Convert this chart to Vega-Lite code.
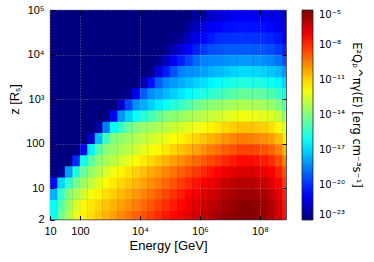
{
"$schema": "https://vega.github.io/schema/vega-lite/v6.json",
"width": 236, "height": 209.5,
"autosize": {"type": "none"},
"padding": {"left": 50, "top": 10, "right": 88, "bottom": 42.5},
"config": {"font": "Liberation Sans", "view": {"stroke": "#222", "strokeWidth": 0.8, "fill": "#00007f"}},
"data": {"values": [
{"logE":1.125,"logZ":0.375,"logQ":-16.07},{"logE":1.375,"logZ":0.375,"logQ":-14.32},{"logE":1.625,"logZ":0.375,"logQ":-13.18},{"logE":1.875,"logZ":0.375,"logQ":-12.17},{"logE":2.125,"logZ":0.375,"logQ":-11.54},{"logE":2.375,"logZ":0.375,"logQ":-11.17},{"logE":2.625,"logZ":0.375,"logQ":-10.8},{"logE":2.875,"logZ":0.375,"logQ":-10.43},{"logE":3.125,"logZ":0.375,"logQ":-10.06},{"logE":3.375,"logZ":0.375,"logQ":-9.69},{"logE":3.625,"logZ":0.375,"logQ":-9.33},{"logE":3.875,"logZ":0.375,"logQ":-9.0},{"logE":4.125,"logZ":0.375,"logQ":-8.67},{"logE":4.375,"logZ":0.375,"logQ":-8.34},{"logE":4.625,"logZ":0.375,"logQ":-8.01},{"logE":4.875,"logZ":0.375,"logQ":-7.68},{"logE":5.125,"logZ":0.375,"logQ":-7.35},{"logE":5.375,"logZ":0.375,"logQ":-7.03},{"logE":5.625,"logZ":0.375,"logQ":-6.72},{"logE":5.875,"logZ":0.375,"logQ":-6.41},{"logE":6.125,"logZ":0.375,"logQ":-6.09},{"logE":6.375,"logZ":0.375,"logQ":-5.85},{"logE":6.625,"logZ":0.375,"logQ":-5.65},{"logE":6.875,"logZ":0.375,"logQ":-5.44},{"logE":7.125,"logZ":0.375,"logQ":-5.27},{"logE":7.375,"logZ":0.375,"logQ":-5.1},{"logE":7.625,"logZ":0.375,"logQ":-5.14},{"logE":7.875,"logZ":0.375,"logQ":-5.25},{"logE":8.125,"logZ":0.375,"logQ":-5.45},{"logE":8.375,"logZ":0.375,"logQ":-5.8},{"logE":8.625,"logZ":0.375,"logQ":-6.42},{"logE":8.875,"logZ":0.375,"logQ":-7.52},
{"logE":1.125,"logZ":0.625,"logQ":-16.22},{"logE":1.375,"logZ":0.625,"logQ":-14.74},{"logE":1.625,"logZ":0.625,"logQ":-13.49},{"logE":1.875,"logZ":0.625,"logQ":-12.47},{"logE":2.125,"logZ":0.625,"logQ":-11.66},{"logE":2.375,"logZ":0.625,"logQ":-11.34},{"logE":2.625,"logZ":0.625,"logQ":-11.03},{"logE":2.875,"logZ":0.625,"logQ":-10.72},{"logE":3.125,"logZ":0.625,"logQ":-10.41},{"logE":3.375,"logZ":0.625,"logQ":-10.09},{"logE":3.625,"logZ":0.625,"logQ":-9.78},{"logE":3.875,"logZ":0.625,"logQ":-9.46},{"logE":4.125,"logZ":0.625,"logQ":-9.11},{"logE":4.375,"logZ":0.625,"logQ":-8.76},{"logE":4.625,"logZ":0.625,"logQ":-8.4},{"logE":4.875,"logZ":0.625,"logQ":-8.05},{"logE":5.125,"logZ":0.625,"logQ":-7.7},{"logE":5.375,"logZ":0.625,"logQ":-7.34},{"logE":5.625,"logZ":0.625,"logQ":-7.03},{"logE":5.875,"logZ":0.625,"logQ":-6.73},{"logE":6.125,"logZ":0.625,"logQ":-6.43},{"logE":6.375,"logZ":0.625,"logQ":-6.14},{"logE":6.625,"logZ":0.625,"logQ":-5.87},{"logE":6.875,"logZ":0.625,"logQ":-5.62},{"logE":7.125,"logZ":0.625,"logQ":-5.41},{"logE":7.375,"logZ":0.625,"logQ":-5.2},{"logE":7.625,"logZ":0.625,"logQ":-5.24},{"logE":7.875,"logZ":0.625,"logQ":-5.35},{"logE":8.125,"logZ":0.625,"logQ":-5.54},{"logE":8.375,"logZ":0.625,"logQ":-5.88},{"logE":8.625,"logZ":0.625,"logQ":-6.49},{"logE":8.875,"logZ":0.625,"logQ":-7.57},
{"logE":1.125,"logZ":0.875,"logQ":-17.68},{"logE":1.375,"logZ":0.875,"logQ":-15.33},{"logE":1.625,"logZ":0.875,"logQ":-13.93},{"logE":1.875,"logZ":0.875,"logQ":-13.28},{"logE":2.125,"logZ":0.875,"logQ":-12.62},{"logE":2.375,"logZ":0.875,"logQ":-11.97},{"logE":2.625,"logZ":0.875,"logQ":-11.54},{"logE":2.875,"logZ":0.875,"logQ":-11.22},{"logE":3.125,"logZ":0.875,"logQ":-10.9},{"logE":3.375,"logZ":0.875,"logQ":-10.58},{"logE":3.625,"logZ":0.875,"logQ":-10.26},{"logE":3.875,"logZ":0.875,"logQ":-9.94},{"logE":4.125,"logZ":0.875,"logQ":-9.62},{"logE":4.375,"logZ":0.875,"logQ":-9.26},{"logE":4.625,"logZ":0.875,"logQ":-8.88},{"logE":4.875,"logZ":0.875,"logQ":-8.49},{"logE":5.125,"logZ":0.875,"logQ":-8.11},{"logE":5.375,"logZ":0.875,"logQ":-7.72},{"logE":5.625,"logZ":0.875,"logQ":-7.34},{"logE":5.875,"logZ":0.875,"logQ":-7.04},{"logE":6.125,"logZ":0.875,"logQ":-6.77},{"logE":6.375,"logZ":0.875,"logQ":-6.49},{"logE":6.625,"logZ":0.875,"logQ":-6.22},{"logE":6.875,"logZ":0.875,"logQ":-5.95},{"logE":7.125,"logZ":0.875,"logQ":-5.73},{"logE":7.375,"logZ":0.875,"logQ":-5.51},{"logE":7.625,"logZ":0.875,"logQ":-5.54},{"logE":7.875,"logZ":0.875,"logQ":-5.64},{"logE":8.125,"logZ":0.875,"logQ":-5.83},{"logE":8.375,"logZ":0.875,"logQ":-6.17},{"logE":8.625,"logZ":0.875,"logQ":-6.77},{"logE":8.875,"logZ":0.875,"logQ":-7.82},
{"logE":1.125,"logZ":1.125,"logQ":-20.64},{"logE":1.375,"logZ":1.125,"logQ":-16.98},{"logE":1.625,"logZ":1.125,"logQ":-15.43},{"logE":1.875,"logZ":1.125,"logQ":-14.26},{"logE":2.125,"logZ":1.125,"logQ":-13.52},{"logE":2.375,"logZ":1.125,"logQ":-12.9},{"logE":2.625,"logZ":1.125,"logQ":-12.28},{"logE":2.875,"logZ":1.125,"logQ":-11.7},{"logE":3.125,"logZ":1.125,"logQ":-11.38},{"logE":3.375,"logZ":1.125,"logQ":-11.06},{"logE":3.625,"logZ":1.125,"logQ":-10.74},{"logE":3.875,"logZ":1.125,"logQ":-10.42},{"logE":4.125,"logZ":1.125,"logQ":-10.1},{"logE":4.375,"logZ":1.125,"logQ":-9.78},{"logE":4.625,"logZ":1.125,"logQ":-9.45},{"logE":4.875,"logZ":1.125,"logQ":-9.07},{"logE":5.125,"logZ":1.125,"logQ":-8.7},{"logE":5.375,"logZ":1.125,"logQ":-8.32},{"logE":5.625,"logZ":1.125,"logQ":-7.95},{"logE":5.875,"logZ":1.125,"logQ":-7.57},{"logE":6.125,"logZ":1.125,"logQ":-7.21},{"logE":6.375,"logZ":1.125,"logQ":-6.93},{"logE":6.625,"logZ":1.125,"logQ":-6.65},{"logE":6.875,"logZ":1.125,"logQ":-6.37},{"logE":7.125,"logZ":1.125,"logQ":-6.12},{"logE":7.375,"logZ":1.125,"logQ":-5.99},{"logE":7.625,"logZ":1.125,"logQ":-6.03},{"logE":7.875,"logZ":1.125,"logQ":-6.14},{"logE":8.125,"logZ":1.125,"logQ":-6.32},{"logE":8.375,"logZ":1.125,"logQ":-6.65},{"logE":8.625,"logZ":1.125,"logQ":-7.24},{"logE":8.875,"logZ":1.125,"logQ":-8.27},
{"logE":1.125,"logZ":1.375,"logQ":-23},{"logE":1.375,"logZ":1.375,"logQ":-22.6},{"logE":1.625,"logZ":1.375,"logQ":-18.06},{"logE":1.875,"logZ":1.375,"logQ":-15.71},{"logE":2.125,"logZ":1.375,"logQ":-14.44},{"logE":2.375,"logZ":1.375,"logQ":-13.64},{"logE":2.625,"logZ":1.375,"logQ":-13.1},{"logE":2.875,"logZ":1.375,"logQ":-12.55},{"logE":3.125,"logZ":1.375,"logQ":-12.0},{"logE":3.375,"logZ":1.375,"logQ":-11.58},{"logE":3.625,"logZ":1.375,"logQ":-11.25},{"logE":3.875,"logZ":1.375,"logQ":-10.93},{"logE":4.125,"logZ":1.375,"logQ":-10.61},{"logE":4.375,"logZ":1.375,"logQ":-10.28},{"logE":4.625,"logZ":1.375,"logQ":-9.96},{"logE":4.875,"logZ":1.375,"logQ":-9.64},{"logE":5.125,"logZ":1.375,"logQ":-9.3},{"logE":5.375,"logZ":1.375,"logQ":-8.96},{"logE":5.625,"logZ":1.375,"logQ":-8.62},{"logE":5.875,"logZ":1.375,"logQ":-8.28},{"logE":6.125,"logZ":1.375,"logQ":-7.94},{"logE":6.375,"logZ":1.375,"logQ":-7.6},{"logE":6.625,"logZ":1.375,"logQ":-7.26},{"logE":6.875,"logZ":1.375,"logQ":-7.01},{"logE":7.125,"logZ":1.375,"logQ":-6.81},{"logE":7.375,"logZ":1.375,"logQ":-6.59},{"logE":7.625,"logZ":1.375,"logQ":-6.63},{"logE":7.875,"logZ":1.375,"logQ":-6.73},{"logE":8.125,"logZ":1.375,"logQ":-6.91},{"logE":8.375,"logZ":1.375,"logQ":-7.24},{"logE":8.625,"logZ":1.375,"logQ":-7.81},{"logE":8.875,"logZ":1.375,"logQ":-8.82},
{"logE":1.125,"logZ":1.625,"logQ":-23},{"logE":1.375,"logZ":1.625,"logQ":-23},{"logE":1.625,"logZ":1.625,"logQ":-23},{"logE":1.875,"logZ":1.625,"logQ":-20.05},{"logE":2.125,"logZ":1.625,"logQ":-16.0},{"logE":2.375,"logZ":1.625,"logQ":-14.63},{"logE":2.625,"logZ":1.625,"logQ":-13.78},{"logE":2.875,"logZ":1.625,"logQ":-13.37},{"logE":3.125,"logZ":1.625,"logQ":-12.96},{"logE":3.375,"logZ":1.625,"logQ":-12.56},{"logE":3.625,"logZ":1.625,"logQ":-12.15},{"logE":3.875,"logZ":1.625,"logQ":-11.74},{"logE":4.125,"logZ":1.625,"logQ":-11.41},{"logE":4.375,"logZ":1.625,"logQ":-11.08},{"logE":4.625,"logZ":1.625,"logQ":-10.75},{"logE":4.875,"logZ":1.625,"logQ":-10.41},{"logE":5.125,"logZ":1.625,"logQ":-10.08},{"logE":5.375,"logZ":1.625,"logQ":-9.75},{"logE":5.625,"logZ":1.625,"logQ":-9.42},{"logE":5.875,"logZ":1.625,"logQ":-9.12},{"logE":6.125,"logZ":1.625,"logQ":-8.82},{"logE":6.375,"logZ":1.625,"logQ":-8.53},{"logE":6.625,"logZ":1.625,"logQ":-8.23},{"logE":6.875,"logZ":1.625,"logQ":-7.93},{"logE":7.125,"logZ":1.625,"logQ":-7.67},{"logE":7.375,"logZ":1.625,"logQ":-7.4},{"logE":7.625,"logZ":1.625,"logQ":-7.43},{"logE":7.875,"logZ":1.625,"logQ":-7.52},{"logE":8.125,"logZ":1.625,"logQ":-7.7},{"logE":8.375,"logZ":1.625,"logQ":-8.0},{"logE":8.625,"logZ":1.625,"logQ":-8.55},{"logE":8.875,"logZ":1.625,"logQ":-9.52},
{"logE":1.125,"logZ":1.875,"logQ":-23},{"logE":1.375,"logZ":1.875,"logQ":-23},{"logE":1.625,"logZ":1.875,"logQ":-23},{"logE":1.875,"logZ":1.875,"logQ":-23},{"logE":2.125,"logZ":1.875,"logQ":-20.98},{"logE":2.375,"logZ":1.875,"logQ":-16.46},{"logE":2.625,"logZ":1.875,"logQ":-14.86},{"logE":2.875,"logZ":1.875,"logQ":-13.87},{"logE":3.125,"logZ":1.875,"logQ":-13.55},{"logE":3.375,"logZ":1.875,"logQ":-13.23},{"logE":3.625,"logZ":1.875,"logQ":-12.91},{"logE":3.875,"logZ":1.875,"logQ":-12.59},{"logE":4.125,"logZ":1.875,"logQ":-12.27},{"logE":4.375,"logZ":1.875,"logQ":-11.95},{"logE":4.625,"logZ":1.875,"logQ":-11.63},{"logE":4.875,"logZ":1.875,"logQ":-11.32},{"logE":5.125,"logZ":1.875,"logQ":-11.01},{"logE":5.375,"logZ":1.875,"logQ":-10.71},{"logE":5.625,"logZ":1.875,"logQ":-10.4},{"logE":5.875,"logZ":1.875,"logQ":-10.09},{"logE":6.125,"logZ":1.875,"logQ":-9.78},{"logE":6.375,"logZ":1.875,"logQ":-9.47},{"logE":6.625,"logZ":1.875,"logQ":-9.19},{"logE":6.875,"logZ":1.875,"logQ":-8.9},{"logE":7.125,"logZ":1.875,"logQ":-8.65},{"logE":7.375,"logZ":1.875,"logQ":-8.4},{"logE":7.625,"logZ":1.875,"logQ":-8.42},{"logE":7.875,"logZ":1.875,"logQ":-8.51},{"logE":8.125,"logZ":1.875,"logQ":-8.68},{"logE":8.375,"logZ":1.875,"logQ":-8.97},{"logE":8.625,"logZ":1.875,"logQ":-9.49},{"logE":8.875,"logZ":1.875,"logQ":-10.42},
{"logE":1.125,"logZ":2.125,"logQ":-23},{"logE":1.375,"logZ":2.125,"logQ":-23},{"logE":1.625,"logZ":2.125,"logQ":-23},{"logE":1.875,"logZ":2.125,"logQ":-23},{"logE":2.125,"logZ":2.125,"logQ":-23},{"logE":2.375,"logZ":2.125,"logQ":-21.65},{"logE":2.625,"logZ":2.125,"logQ":-17.45},{"logE":2.875,"logZ":2.125,"logQ":-15.22},{"logE":3.125,"logZ":2.125,"logQ":-13.94},{"logE":3.375,"logZ":2.125,"logQ":-13.68},{"logE":3.625,"logZ":2.125,"logQ":-13.41},{"logE":3.875,"logZ":2.125,"logQ":-13.15},{"logE":4.125,"logZ":2.125,"logQ":-12.89},{"logE":4.375,"logZ":2.125,"logQ":-12.62},{"logE":4.625,"logZ":2.125,"logQ":-12.36},{"logE":4.875,"logZ":2.125,"logQ":-12.09},{"logE":5.125,"logZ":2.125,"logQ":-11.83},{"logE":5.375,"logZ":2.125,"logQ":-11.55},{"logE":5.625,"logZ":2.125,"logQ":-11.27},{"logE":5.875,"logZ":2.125,"logQ":-10.99},{"logE":6.125,"logZ":2.125,"logQ":-10.71},{"logE":6.375,"logZ":2.125,"logQ":-10.43},{"logE":6.625,"logZ":2.125,"logQ":-10.15},{"logE":6.875,"logZ":2.125,"logQ":-9.87},{"logE":7.125,"logZ":2.125,"logQ":-9.62},{"logE":7.375,"logZ":2.125,"logQ":-9.47},{"logE":7.625,"logZ":2.125,"logQ":-9.51},{"logE":7.875,"logZ":2.125,"logQ":-9.6},{"logE":8.125,"logZ":2.125,"logQ":-9.75},{"logE":8.375,"logZ":2.125,"logQ":-10.02},{"logE":8.625,"logZ":2.125,"logQ":-10.51},{"logE":8.875,"logZ":2.125,"logQ":-11.37},
{"logE":1.125,"logZ":2.375,"logQ":-23},{"logE":1.375,"logZ":2.375,"logQ":-23},{"logE":1.625,"logZ":2.375,"logQ":-23},{"logE":1.875,"logZ":2.375,"logQ":-23},{"logE":2.125,"logZ":2.375,"logQ":-23},{"logE":2.375,"logZ":2.375,"logQ":-23},{"logE":2.625,"logZ":2.375,"logQ":-22.3},{"logE":2.875,"logZ":2.375,"logQ":-18.59},{"logE":3.125,"logZ":2.375,"logQ":-16.23},{"logE":3.375,"logZ":2.375,"logQ":-15.31},{"logE":3.625,"logZ":2.375,"logQ":-14.39},{"logE":3.875,"logZ":2.375,"logQ":-13.87},{"logE":4.125,"logZ":2.375,"logQ":-13.64},{"logE":4.375,"logZ":2.375,"logQ":-13.41},{"logE":4.625,"logZ":2.375,"logQ":-13.18},{"logE":4.875,"logZ":2.375,"logQ":-12.96},{"logE":5.125,"logZ":2.375,"logQ":-12.73},{"logE":5.375,"logZ":2.375,"logQ":-12.5},{"logE":5.625,"logZ":2.375,"logQ":-12.27},{"logE":5.875,"logZ":2.375,"logQ":-12.05},{"logE":6.125,"logZ":2.375,"logQ":-11.82},{"logE":6.375,"logZ":2.375,"logQ":-11.58},{"logE":6.625,"logZ":2.375,"logQ":-11.34},{"logE":6.875,"logZ":2.375,"logQ":-11.1},{"logE":7.125,"logZ":2.375,"logQ":-10.89},{"logE":7.375,"logZ":2.375,"logQ":-10.68},{"logE":7.625,"logZ":2.375,"logQ":-10.7},{"logE":7.875,"logZ":2.375,"logQ":-10.78},{"logE":8.125,"logZ":2.375,"logQ":-10.92},{"logE":8.375,"logZ":2.375,"logQ":-11.18},{"logE":8.625,"logZ":2.375,"logQ":-11.62},{"logE":8.875,"logZ":2.375,"logQ":-12.42},
{"logE":1.125,"logZ":2.625,"logQ":-23},{"logE":1.375,"logZ":2.625,"logQ":-23},{"logE":1.625,"logZ":2.625,"logQ":-23},{"logE":1.875,"logZ":2.625,"logQ":-23},{"logE":2.125,"logZ":2.625,"logQ":-23},{"logE":2.375,"logZ":2.625,"logQ":-23},{"logE":2.625,"logZ":2.625,"logQ":-23},{"logE":2.875,"logZ":2.625,"logQ":-23},{"logE":3.125,"logZ":2.625,"logQ":-20.68},{"logE":3.375,"logZ":2.625,"logQ":-18.11},{"logE":3.625,"logZ":2.625,"logQ":-17.09},{"logE":3.875,"logZ":2.625,"logQ":-16.15},{"logE":4.125,"logZ":2.625,"logQ":-15.59},{"logE":4.375,"logZ":2.625,"logQ":-15.02},{"logE":4.625,"logZ":2.625,"logQ":-14.46},{"logE":4.875,"logZ":2.625,"logQ":-13.96},{"logE":5.125,"logZ":2.625,"logQ":-13.76},{"logE":5.375,"logZ":2.625,"logQ":-13.55},{"logE":5.625,"logZ":2.625,"logQ":-13.35},{"logE":5.875,"logZ":2.625,"logQ":-13.15},{"logE":6.125,"logZ":2.625,"logQ":-12.94},{"logE":6.375,"logZ":2.625,"logQ":-12.74},{"logE":6.625,"logZ":2.625,"logQ":-12.53},{"logE":6.875,"logZ":2.625,"logQ":-12.33},{"logE":7.125,"logZ":2.625,"logQ":-12.15},{"logE":7.375,"logZ":2.625,"logQ":-11.97},{"logE":7.625,"logZ":2.625,"logQ":-11.99},{"logE":7.875,"logZ":2.625,"logQ":-12.06},{"logE":8.125,"logZ":2.625,"logQ":-12.19},{"logE":8.375,"logZ":2.625,"logQ":-12.41},{"logE":8.625,"logZ":2.625,"logQ":-12.81},{"logE":8.875,"logZ":2.625,"logQ":-13.52},
{"logE":1.125,"logZ":2.875,"logQ":-23},{"logE":1.375,"logZ":2.875,"logQ":-23},{"logE":1.625,"logZ":2.875,"logQ":-23},{"logE":1.875,"logZ":2.875,"logQ":-23},{"logE":2.125,"logZ":2.875,"logQ":-23},{"logE":2.375,"logZ":2.875,"logQ":-23},{"logE":2.625,"logZ":2.875,"logQ":-23},{"logE":2.875,"logZ":2.875,"logQ":-23},{"logE":3.125,"logZ":2.875,"logQ":-23},{"logE":3.375,"logZ":2.875,"logQ":-21.69},{"logE":3.625,"logZ":2.875,"logQ":-19.58},{"logE":3.875,"logZ":2.875,"logQ":-18.18},{"logE":4.125,"logZ":2.875,"logQ":-17.64},{"logE":4.375,"logZ":2.875,"logQ":-17.09},{"logE":4.625,"logZ":2.875,"logQ":-16.55},{"logE":4.875,"logZ":2.875,"logQ":-16.06},{"logE":5.125,"logZ":2.875,"logQ":-15.66},{"logE":5.375,"logZ":2.875,"logQ":-15.25},{"logE":5.625,"logZ":2.875,"logQ":-14.85},{"logE":5.875,"logZ":2.875,"logQ":-14.44},{"logE":6.125,"logZ":2.875,"logQ":-14.04},{"logE":6.375,"logZ":2.875,"logQ":-13.84},{"logE":6.625,"logZ":2.875,"logQ":-13.66},{"logE":6.875,"logZ":2.875,"logQ":-13.48},{"logE":7.125,"logZ":2.875,"logQ":-13.33},{"logE":7.375,"logZ":2.875,"logQ":-13.17},{"logE":7.625,"logZ":2.875,"logQ":-13.19},{"logE":7.875,"logZ":2.875,"logQ":-13.25},{"logE":8.125,"logZ":2.875,"logQ":-13.37},{"logE":8.375,"logZ":2.875,"logQ":-13.58},{"logE":8.625,"logZ":2.875,"logQ":-13.95},{"logE":8.875,"logZ":2.875,"logQ":-14.62},
{"logE":1.125,"logZ":3.125,"logQ":-23},{"logE":1.375,"logZ":3.125,"logQ":-23},{"logE":1.625,"logZ":3.125,"logQ":-23},{"logE":1.875,"logZ":3.125,"logQ":-23},{"logE":2.125,"logZ":3.125,"logQ":-23},{"logE":2.375,"logZ":3.125,"logQ":-23},{"logE":2.625,"logZ":3.125,"logQ":-23},{"logE":2.875,"logZ":3.125,"logQ":-23},{"logE":3.125,"logZ":3.125,"logQ":-23},{"logE":3.375,"logZ":3.125,"logQ":-23},{"logE":3.625,"logZ":3.125,"logQ":-22.7},{"logE":3.875,"logZ":3.125,"logQ":-20.97},{"logE":4.125,"logZ":3.125,"logQ":-19.14},{"logE":4.375,"logZ":3.125,"logQ":-18.24},{"logE":4.625,"logZ":3.125,"logQ":-17.85},{"logE":4.875,"logZ":3.125,"logQ":-17.45},{"logE":5.125,"logZ":3.125,"logQ":-17.06},{"logE":5.375,"logZ":3.125,"logQ":-16.67},{"logE":5.625,"logZ":3.125,"logQ":-16.27},{"logE":5.875,"logZ":3.125,"logQ":-16.0},{"logE":6.125,"logZ":3.125,"logQ":-15.74},{"logE":6.375,"logZ":3.125,"logQ":-15.48},{"logE":6.625,"logZ":3.125,"logQ":-15.21},{"logE":6.875,"logZ":3.125,"logQ":-14.95},{"logE":7.125,"logZ":3.125,"logQ":-14.72},{"logE":7.375,"logZ":3.125,"logQ":-14.48},{"logE":7.625,"logZ":3.125,"logQ":-14.48},{"logE":7.875,"logZ":3.125,"logQ":-14.55},{"logE":8.125,"logZ":3.125,"logQ":-14.66},{"logE":8.375,"logZ":3.125,"logQ":-14.86},{"logE":8.625,"logZ":3.125,"logQ":-15.23},{"logE":8.875,"logZ":3.125,"logQ":-15.86},
{"logE":1.125,"logZ":3.375,"logQ":-23},{"logE":1.375,"logZ":3.375,"logQ":-23},{"logE":1.625,"logZ":3.375,"logQ":-23},{"logE":1.875,"logZ":3.375,"logQ":-23},{"logE":2.125,"logZ":3.375,"logQ":-23},{"logE":2.375,"logZ":3.375,"logQ":-23},{"logE":2.625,"logZ":3.375,"logQ":-23},{"logE":2.875,"logZ":3.375,"logQ":-23},{"logE":3.125,"logZ":3.375,"logQ":-23},{"logE":3.375,"logZ":3.375,"logQ":-23},{"logE":3.625,"logZ":3.375,"logQ":-23},{"logE":3.875,"logZ":3.375,"logQ":-23},{"logE":4.125,"logZ":3.375,"logQ":-22.12},{"logE":4.375,"logZ":3.375,"logQ":-20.55},{"logE":4.625,"logZ":3.375,"logQ":-19.15},{"logE":4.875,"logZ":3.375,"logQ":-18.33},{"logE":5.125,"logZ":3.375,"logQ":-18.01},{"logE":5.375,"logZ":3.375,"logQ":-17.69},{"logE":5.625,"logZ":3.375,"logQ":-17.38},{"logE":5.875,"logZ":3.375,"logQ":-17.06},{"logE":6.125,"logZ":3.375,"logQ":-16.74},{"logE":6.375,"logZ":3.375,"logQ":-16.42},{"logE":6.625,"logZ":3.375,"logQ":-16.17},{"logE":6.875,"logZ":3.375,"logQ":-15.98},{"logE":7.125,"logZ":3.375,"logQ":-15.82},{"logE":7.375,"logZ":3.375,"logQ":-15.66},{"logE":7.625,"logZ":3.375,"logQ":-15.68},{"logE":7.875,"logZ":3.375,"logQ":-15.74},{"logE":8.125,"logZ":3.375,"logQ":-15.84},{"logE":8.375,"logZ":3.375,"logQ":-16.03},{"logE":8.625,"logZ":3.375,"logQ":-16.37},{"logE":8.875,"logZ":3.375,"logQ":-16.96},
{"logE":1.125,"logZ":3.625,"logQ":-23},{"logE":1.375,"logZ":3.625,"logQ":-23},{"logE":1.625,"logZ":3.625,"logQ":-23},{"logE":1.875,"logZ":3.625,"logQ":-23},{"logE":2.125,"logZ":3.625,"logQ":-23},{"logE":2.375,"logZ":3.625,"logQ":-23},{"logE":2.625,"logZ":3.625,"logQ":-23},{"logE":2.875,"logZ":3.625,"logQ":-23},{"logE":3.125,"logZ":3.625,"logQ":-23},{"logE":3.375,"logZ":3.625,"logQ":-23},{"logE":3.625,"logZ":3.625,"logQ":-23},{"logE":3.875,"logZ":3.625,"logQ":-23},{"logE":4.125,"logZ":3.625,"logQ":-23},{"logE":4.375,"logZ":3.625,"logQ":-22.7},{"logE":4.625,"logZ":3.625,"logQ":-21.43},{"logE":4.875,"logZ":3.625,"logQ":-20.3},{"logE":5.125,"logZ":3.625,"logQ":-19.33},{"logE":5.375,"logZ":3.625,"logQ":-18.47},{"logE":5.625,"logZ":3.625,"logQ":-18.26},{"logE":5.875,"logZ":3.625,"logQ":-18.06},{"logE":6.125,"logZ":3.625,"logQ":-17.85},{"logE":6.375,"logZ":3.625,"logQ":-17.65},{"logE":6.625,"logZ":3.625,"logQ":-17.44},{"logE":6.875,"logZ":3.625,"logQ":-17.23},{"logE":7.125,"logZ":3.625,"logQ":-17.05},{"logE":7.375,"logZ":3.625,"logQ":-16.86},{"logE":7.625,"logZ":3.625,"logQ":-16.87},{"logE":7.875,"logZ":3.625,"logQ":-16.93},{"logE":8.125,"logZ":3.625,"logQ":-17.03},{"logE":8.375,"logZ":3.625,"logQ":-17.22},{"logE":8.625,"logZ":3.625,"logQ":-17.54},{"logE":8.875,"logZ":3.625,"logQ":-18.11},
{"logE":1.125,"logZ":3.875,"logQ":-23},{"logE":1.375,"logZ":3.875,"logQ":-23},{"logE":1.625,"logZ":3.875,"logQ":-23},{"logE":1.875,"logZ":3.875,"logQ":-23},{"logE":2.125,"logZ":3.875,"logQ":-23},{"logE":2.375,"logZ":3.875,"logQ":-23},{"logE":2.625,"logZ":3.875,"logQ":-23},{"logE":2.875,"logZ":3.875,"logQ":-23},{"logE":3.125,"logZ":3.875,"logQ":-23},{"logE":3.375,"logZ":3.875,"logQ":-23},{"logE":3.625,"logZ":3.875,"logQ":-23},{"logE":3.875,"logZ":3.875,"logQ":-23},{"logE":4.125,"logZ":3.875,"logQ":-23},{"logE":4.375,"logZ":3.875,"logQ":-23},{"logE":4.625,"logZ":3.875,"logQ":-22.8},{"logE":4.875,"logZ":3.875,"logQ":-21.88},{"logE":5.125,"logZ":3.875,"logQ":-20.98},{"logE":5.375,"logZ":3.875,"logQ":-20.25},{"logE":5.625,"logZ":3.875,"logQ":-19.58},{"logE":5.875,"logZ":3.875,"logQ":-18.91},{"logE":6.125,"logZ":3.875,"logQ":-18.47},{"logE":6.375,"logZ":3.875,"logQ":-18.37},{"logE":6.625,"logZ":3.875,"logQ":-18.28},{"logE":6.875,"logZ":3.875,"logQ":-18.19},{"logE":7.125,"logZ":3.875,"logQ":-18.12},{"logE":7.375,"logZ":3.875,"logQ":-18.05},{"logE":7.625,"logZ":3.875,"logQ":-18.07},{"logE":7.875,"logZ":3.875,"logQ":-18.13},{"logE":8.125,"logZ":3.875,"logQ":-18.23},{"logE":8.375,"logZ":3.875,"logQ":-18.4},{"logE":8.625,"logZ":3.875,"logQ":-18.71},{"logE":8.875,"logZ":3.875,"logQ":-19.26},
{"logE":1.125,"logZ":4.125,"logQ":-23},{"logE":1.375,"logZ":4.125,"logQ":-23},{"logE":1.625,"logZ":4.125,"logQ":-23},{"logE":1.875,"logZ":4.125,"logQ":-23},{"logE":2.125,"logZ":4.125,"logQ":-23},{"logE":2.375,"logZ":4.125,"logQ":-23},{"logE":2.625,"logZ":4.125,"logQ":-23},{"logE":2.875,"logZ":4.125,"logQ":-23},{"logE":3.125,"logZ":4.125,"logQ":-23},{"logE":3.375,"logZ":4.125,"logQ":-23},{"logE":3.625,"logZ":4.125,"logQ":-23},{"logE":3.875,"logZ":4.125,"logQ":-23},{"logE":4.125,"logZ":4.125,"logQ":-23},{"logE":4.375,"logZ":4.125,"logQ":-23},{"logE":4.625,"logZ":4.125,"logQ":-23},{"logE":4.875,"logZ":4.125,"logQ":-22.8},{"logE":5.125,"logZ":4.125,"logQ":-22.18},{"logE":5.375,"logZ":4.125,"logQ":-21.43},{"logE":5.625,"logZ":4.125,"logQ":-20.76},{"logE":5.875,"logZ":4.125,"logQ":-20.26},{"logE":6.125,"logZ":4.125,"logQ":-19.75},{"logE":6.375,"logZ":4.125,"logQ":-19.38},{"logE":6.625,"logZ":4.125,"logQ":-19.31},{"logE":6.875,"logZ":4.125,"logQ":-19.24},{"logE":7.125,"logZ":4.125,"logQ":-19.19},{"logE":7.375,"logZ":4.125,"logQ":-19.15},{"logE":7.625,"logZ":4.125,"logQ":-19.16},{"logE":7.875,"logZ":4.125,"logQ":-19.21},{"logE":8.125,"logZ":4.125,"logQ":-19.3},{"logE":8.375,"logZ":4.125,"logQ":-19.45},{"logE":8.625,"logZ":4.125,"logQ":-19.73},{"logE":8.875,"logZ":4.125,"logQ":-20.21},
{"logE":1.125,"logZ":4.375,"logQ":-23},{"logE":1.375,"logZ":4.375,"logQ":-23},{"logE":1.625,"logZ":4.375,"logQ":-23},{"logE":1.875,"logZ":4.375,"logQ":-23},{"logE":2.125,"logZ":4.375,"logQ":-23},{"logE":2.375,"logZ":4.375,"logQ":-23},{"logE":2.625,"logZ":4.375,"logQ":-23},{"logE":2.875,"logZ":4.375,"logQ":-23},{"logE":3.125,"logZ":4.375,"logQ":-23},{"logE":3.375,"logZ":4.375,"logQ":-23},{"logE":3.625,"logZ":4.375,"logQ":-23},{"logE":3.875,"logZ":4.375,"logQ":-23},{"logE":4.125,"logZ":4.375,"logQ":-23},{"logE":4.375,"logZ":4.375,"logQ":-23},{"logE":4.625,"logZ":4.375,"logQ":-23},{"logE":4.875,"logZ":4.375,"logQ":-23},{"logE":5.125,"logZ":4.375,"logQ":-22.8},{"logE":5.375,"logZ":4.375,"logQ":-22.58},{"logE":5.625,"logZ":4.375,"logQ":-21.71},{"logE":5.875,"logZ":4.375,"logQ":-21.18},{"logE":6.125,"logZ":4.375,"logQ":-20.69},{"logE":6.375,"logZ":4.375,"logQ":-20.33},{"logE":6.625,"logZ":4.375,"logQ":-19.99},{"logE":6.875,"logZ":4.375,"logQ":-19.93},{"logE":7.125,"logZ":4.375,"logQ":-19.89},{"logE":7.375,"logZ":4.375,"logQ":-19.84},{"logE":7.625,"logZ":4.375,"logQ":-19.86},{"logE":7.875,"logZ":4.375,"logQ":-19.9},{"logE":8.125,"logZ":4.375,"logQ":-19.98},{"logE":8.375,"logZ":4.375,"logQ":-20.12},{"logE":8.625,"logZ":4.375,"logQ":-20.37},{"logE":8.875,"logZ":4.375,"logQ":-20.81},
{"logE":1.125,"logZ":4.625,"logQ":-23},{"logE":1.375,"logZ":4.625,"logQ":-23},{"logE":1.625,"logZ":4.625,"logQ":-23},{"logE":1.875,"logZ":4.625,"logQ":-23},{"logE":2.125,"logZ":4.625,"logQ":-23},{"logE":2.375,"logZ":4.625,"logQ":-23},{"logE":2.625,"logZ":4.625,"logQ":-23},{"logE":2.875,"logZ":4.625,"logQ":-23},{"logE":3.125,"logZ":4.625,"logQ":-23},{"logE":3.375,"logZ":4.625,"logQ":-23},{"logE":3.625,"logZ":4.625,"logQ":-23},{"logE":3.875,"logZ":4.625,"logQ":-23},{"logE":4.125,"logZ":4.625,"logQ":-23},{"logE":4.375,"logZ":4.625,"logQ":-23},{"logE":4.625,"logZ":4.625,"logQ":-23},{"logE":4.875,"logZ":4.625,"logQ":-23},{"logE":5.125,"logZ":4.625,"logQ":-23},{"logE":5.375,"logZ":4.625,"logQ":-23},{"logE":5.625,"logZ":4.625,"logQ":-22.45},{"logE":5.875,"logZ":4.625,"logQ":-21.9},{"logE":6.125,"logZ":4.625,"logQ":-21.37},{"logE":6.375,"logZ":4.625,"logQ":-20.94},{"logE":6.625,"logZ":4.625,"logQ":-20.74},{"logE":6.875,"logZ":4.625,"logQ":-20.58},{"logE":7.125,"logZ":4.625,"logQ":-20.51},{"logE":7.375,"logZ":4.625,"logQ":-20.44},{"logE":7.625,"logZ":4.625,"logQ":-20.45},{"logE":7.875,"logZ":4.625,"logQ":-20.49},{"logE":8.125,"logZ":4.625,"logQ":-20.56},{"logE":8.375,"logZ":4.625,"logQ":-20.69},{"logE":8.625,"logZ":4.625,"logQ":-20.91},{"logE":8.875,"logZ":4.625,"logQ":-21.31},
{"logE":1.125,"logZ":4.875,"logQ":-23},{"logE":1.375,"logZ":4.875,"logQ":-23},{"logE":1.625,"logZ":4.875,"logQ":-23},{"logE":1.875,"logZ":4.875,"logQ":-23},{"logE":2.125,"logZ":4.875,"logQ":-23},{"logE":2.375,"logZ":4.875,"logQ":-23},{"logE":2.625,"logZ":4.875,"logQ":-23},{"logE":2.875,"logZ":4.875,"logQ":-23},{"logE":3.125,"logZ":4.875,"logQ":-23},{"logE":3.375,"logZ":4.875,"logQ":-23},{"logE":3.625,"logZ":4.875,"logQ":-23},{"logE":3.875,"logZ":4.875,"logQ":-23},{"logE":4.125,"logZ":4.875,"logQ":-23},{"logE":4.375,"logZ":4.875,"logQ":-23},{"logE":4.625,"logZ":4.875,"logQ":-23},{"logE":4.875,"logZ":4.875,"logQ":-23},{"logE":5.125,"logZ":4.875,"logQ":-23},{"logE":5.375,"logZ":4.875,"logQ":-23},{"logE":5.625,"logZ":4.875,"logQ":-23},{"logE":5.875,"logZ":4.875,"logQ":-22.45},{"logE":6.125,"logZ":4.875,"logQ":-22.22},{"logE":6.375,"logZ":4.875,"logQ":-21.72},{"logE":6.625,"logZ":4.875,"logQ":-21.38},{"logE":6.875,"logZ":4.875,"logQ":-21.19},{"logE":7.125,"logZ":4.875,"logQ":-21.05},{"logE":7.375,"logZ":4.875,"logQ":-20.94},{"logE":7.625,"logZ":4.875,"logQ":-20.95},{"logE":7.875,"logZ":4.875,"logQ":-20.98},{"logE":8.125,"logZ":4.875,"logQ":-21.04},{"logE":8.375,"logZ":4.875,"logQ":-21.16},{"logE":8.625,"logZ":4.875,"logQ":-21.36},{"logE":8.875,"logZ":4.875,"logQ":-21.71}
]},
"layer": [
 {
  "mark": {"type": "rect", "width": 7.9, "height": 11.7, "clip": true},
  "encoding": {
   "x": {"field": "logE", "type": "quantitative",
         "scale": {"domain": [1, 8.87], "nice": false, "zero": false},
         "axis": {"values": [1, 2, 4, 6, 8], "labelExpr": "datum.value == 1 ? '10' : datum.value == 2 ? '100' : datum.value == 4 ? '10⁴' : datum.value == 6 ? '10⁶' : '10⁸'",
                  "title": "Energy [GeV]", "titleFontSize": 13, "titleFontWeight": "normal", "titleColor": "#000", "titlePadding": 3,
                  "labelFontSize": 11, "labelColor": "#000", "labelFlush": false, "labelOverlap": false, "labelPadding": 10,
                  "tickSize": -4, "tickColor": "#000", "domain": false, "zindex": 1,
                  "grid": true, "gridColor": "#c8c8c8", "gridDash": [1, 2], "gridOpacity": 0.6, "gridWidth": 0.8}},
   "y": {"field": "logZ", "type": "quantitative",
         "scale": {"domain": [0.30103, 5], "nice": false, "zero": false},
         "axis": {"values": [0.30103, 1, 2, 3, 4, 5], "labelExpr": "datum.value < 0.5 ? '2' : datum.value == 1 ? '10' : datum.value == 2 ? '100' : datum.value == 3 ? '10³' : datum.value == 4 ? '10⁴' : '10⁵'",
                  "title": "z [Rₛ]", "titleFontSize": 13, "titleFontWeight": "normal", "titleColor": "#000", "titleY": 89,
                  "labelFontSize": 11, "labelColor": "#000", "labelFlush": false, "labelOverlap": false, "labelPadding": 10,
                  "tickSize": -4, "tickColor": "#000", "domain": false, "zindex": 1,
                  "grid": true, "gridColor": "#c8c8c8", "gridDash": [1, 2], "gridOpacity": 0.6, "gridWidth": 0.8}},
   "color": {"field": "logQ", "type": "quantitative",
             "scale": {"domain": [-23, -20.75, -16.25, -11.75, -7.25, -5], "range": ["#00007f", "#0000ff", "#00ffff", "#ffff00", "#ff0000", "#7f0000"], "interpolate": "rgb", "clamp": true},
             "legend": {"type": "gradient", "direction": "vertical", "gradientLength": 210, "gradientThickness": 11, "offset": 14.5, "padding": 0,
                        "gradientStrokeColor": "#222", "gradientStrokeWidth": 0.8,
                        "values": [-23, -20, -17, -14, -11, -8, -5],
                        "labelExpr": "datum.value == -5 ? '10⁻⁵' : datum.value == -8 ? '10⁻⁸' : datum.value == -11 ? '10⁻¹¹' : datum.value == -14 ? '10⁻¹⁴' : datum.value == -17 ? '10⁻¹⁷' : datum.value == -20 ? '10⁻²⁰' : '10⁻²³'",
                        "labelFont": "DejaVu Sans", "labelFontSize": 10, "labelColor": "#000", "labelOffset": 6, "labelOverlap": false,
                        "title": "E²Qₚ^πγ(E) [erg cm⁻³s⁻¹]", "titleFont": "DejaVu Sans", "titleOrient": "right", "titleAngle": 90, "titleFontSize": 11.5, "titleFontWeight": "normal", "titleColor": "#000", "titleAnchor": "middle", "titlePadding": 6}}
  }
 },
 {
  "mark": {"type": "rect", "width": 1, "height": 1, "opacity": 0},
  "encoding": {
   "x": {"field": "logE", "type": "quantitative",
         "scale": {"domain": [1, 8.87], "nice": false, "zero": false},
         "axis": {"orient": "top", "values": [2, 4, 6, 8], "labels": false, "title": null, "grid": false, "domain": false, "tickSize": -4, "tickColor": "#000", "zindex": 1}},
   "y": {"field": "logZ", "type": "quantitative",
         "scale": {"domain": [0.30103, 5], "nice": false, "zero": false},
         "axis": {"orient": "right", "values": [1, 2, 3, 4], "labels": false, "title": null, "grid": false, "domain": false, "tickSize": -4, "tickColor": "#000", "zindex": 1}}
  }
 }
],
"resolve": {"axis": {"x": "independent", "y": "independent"}}
}
